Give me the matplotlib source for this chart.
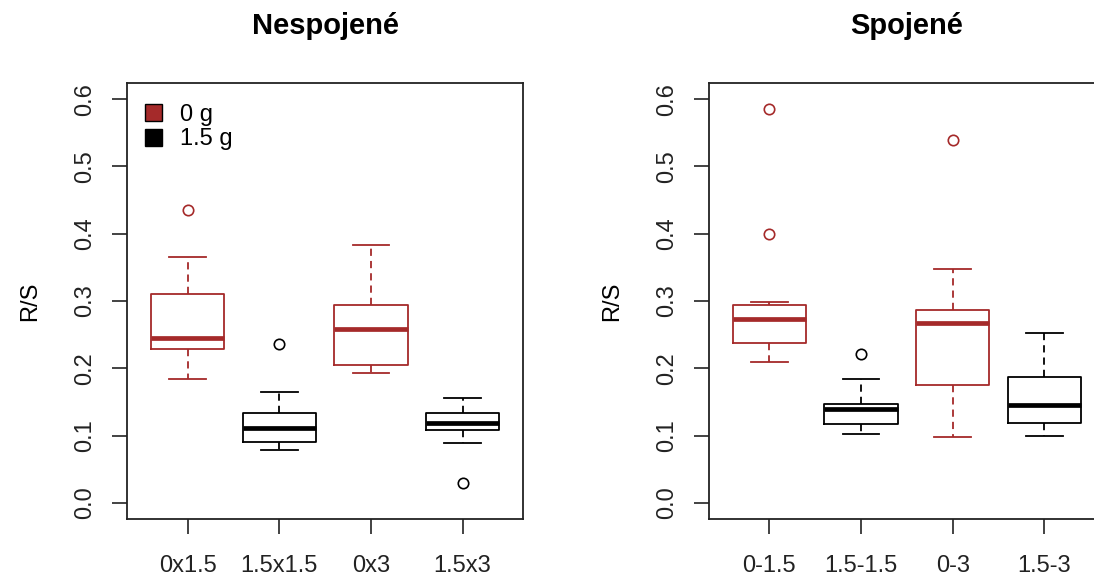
import matplotlib
matplotlib.use("Agg")
import matplotlib.pyplot as plt
from matplotlib.patches import Patch

plt.rcParams['font.family'] = ['Liberation Sans', 'DejaVu Sans']

# summary statistics of R/S per group
nesp_labels = ["0x1.5", "1.5x1.5", "0x3", "1.5x3"]
nesp_whislo = [0.184, 0.079, 0.193, 0.0885]
nesp_q1 = [0.229, 0.091, 0.205, 0.109]
nesp_med = [0.245, 0.111, 0.259, 0.119]
nesp_q3 = [0.311, 0.133, 0.294, 0.133]
nesp_whishi = [0.366, 0.165, 0.383, 0.156]
nesp_fliers = [[0.436], [0.236], [], [0.030]]

sp_labels = ["0-1.5", "1.5-1.5", "0-3", "1.5-3"]
sp_whislo = [0.210, 0.103, 0.098, 0.100]
sp_q1 = [0.238, 0.117, 0.175, 0.119]
sp_med = [0.273, 0.140, 0.268, 0.145]
sp_q3 = [0.294, 0.147, 0.287, 0.187]
sp_whishi = [0.299, 0.184, 0.348, 0.252]
sp_fliers = [[0.586, 0.399], [0.222], [0.539], []]

legend_labels = ["0 g", "1.5 g"]
BROWN = "#A52A2A"
box_colors = [BROWN, "black", BROWN, "black"]

fig = plt.figure(figsize=(10.94, 5.79), dpi=100)
ax1 = fig.add_axes([0.1161, 0.1036, 0.362, 0.753])
ax2 = fig.add_axes([0.648, 0.1036, 0.362, 0.753])


def draw_panel(ax, title, labels, wlo, q1, med, q3, whi, fliers):
    stats = []
    for i in range(len(labels)):
        stats.append(dict(label=labels[i], whislo=wlo[i], q1=q1[i], med=med[i],
                          q3=q3[i], whishi=whi[i], fliers=fliers[i]))
    pos = list(range(1, len(labels) + 1))
    art = ax.bxp(stats, positions=pos, widths=0.8, capwidths=0.4,
                 boxprops=dict(linewidth=1.3),
                 whiskerprops=dict(linewidth=1.3, linestyle=(0, (4, 2.8))),
                 capprops=dict(linewidth=1.3),
                 medianprops=dict(linewidth=3.4, solid_capstyle='butt'),
                 flierprops=dict(marker='o', markersize=7.5, markerfacecolor='none',
                                 markeredgewidth=1.2))
    for i, c in enumerate(box_colors):
        art['boxes'][i].set_color(c)
        art['medians'][i].set_color(c)
        art['fliers'][i].set_markeredgecolor(c)
        for j in (2 * i, 2 * i + 1):
            art['whiskers'][j].set_color(c)
            art['caps'][j].set_color(c)

    ax.set_xlim(0.34, 4.66)
    ax.set_ylim(-0.024, 0.624)
    ax.set_yticks([0.0, 0.1, 0.2, 0.3, 0.4, 0.5, 0.6])
    ax.set_yticklabels([f"{v:.1f}" for v in ax.get_yticks()], rotation=90, va='center')
    ax.set_xticks(pos)
    ax.set_xticklabels(labels)
    ax.tick_params(axis='both', direction='out', length=11, width=1.2,
                   labelsize=17, colors='#222222')
    ax.tick_params(axis='x', pad=15)
    ax.tick_params(axis='y', pad=11)
    for s in ax.spines.values():
        s.set_linewidth(1.3)
        s.set_color('#222222')
    ax.set_ylabel("R/S", fontsize=17, labelpad=24)
    ax.set_title(title, fontsize=21, fontweight='bold', pad=35)


draw_panel(ax1, "Nespojené", nesp_labels, nesp_whislo, nesp_q1, nesp_med,
           nesp_q3, nesp_whishi, nesp_fliers)
draw_panel(ax2, "Spojené", sp_labels, sp_whislo, sp_q1, sp_med,
           sp_q3, sp_whishi, sp_fliers)

handles = [Patch(facecolor=BROWN, edgecolor='black'),
           Patch(facecolor='black', edgecolor='black')]
ax1.legend(handles, legend_labels, loc='upper left', bbox_to_anchor=(0.045, 0.953),
           frameon=False, fontsize=17, handlelength=0.72, handleheight=0.72,
           handletextpad=0.76, labelspacing=0.12, borderaxespad=0, borderpad=0)

fig.savefig("out.png", dpi=100)
